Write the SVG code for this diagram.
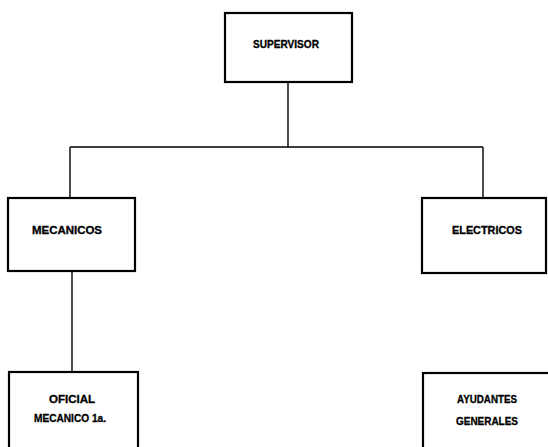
<svg xmlns="http://www.w3.org/2000/svg" width="548" height="447" viewBox="0 0 548 447">
<style>
.box{fill:#fff;stroke:#000;stroke-width:2.2}
.lbl{font-family:"Liberation Sans",Arial,sans-serif;font-weight:bold;font-size:10.5px;fill:#000;stroke:#000;stroke-width:0.3;text-anchor:middle}
.con{fill:none;stroke:#000;stroke-width:1.4}
</style>
<rect width="548" height="447" fill="#fff"/>
<g id="connectors">
<path class="con" d="M288,82 V147 M70,147 H483 M70,147 V198 M483,147 V198 M72,271 V372"/>
</g>
<g id="supervisor">
<rect class="box" x="225" y="13" width="127" height="69"/>
<text class="lbl" x="286" y="48" textLength="66" lengthAdjust="spacingAndGlyphs">SUPERVISOR</text>
</g>
<g id="mecanicos">
<rect class="box" x="8" y="198" width="127" height="73"/>
<text class="lbl" x="67" y="234" textLength="70" lengthAdjust="spacingAndGlyphs">MECANICOS</text>
</g>
<g id="electricos">
<rect class="box" x="422" y="198" width="124" height="75"/>
<text class="lbl" x="487" y="234" textLength="70" lengthAdjust="spacingAndGlyphs">ELECTRICOS</text>
</g>
<g id="oficial">
<rect class="box" x="9" y="372" width="129" height="80"/>
<text class="lbl" x="72" y="403" textLength="46" lengthAdjust="spacingAndGlyphs">OFICIAL</text>
<text class="lbl" x="70" y="422" textLength="72" lengthAdjust="spacingAndGlyphs">MECANICO 1a.</text>
</g>
<g id="ayudantes">
<rect class="box" x="423" y="373" width="130" height="80"/>
<text class="lbl" x="487" y="403" textLength="60" lengthAdjust="spacingAndGlyphs">AYUDANTES</text>
<text class="lbl" x="487" y="425" textLength="62" lengthAdjust="spacingAndGlyphs">GENERALES</text>
</g>
</svg>
